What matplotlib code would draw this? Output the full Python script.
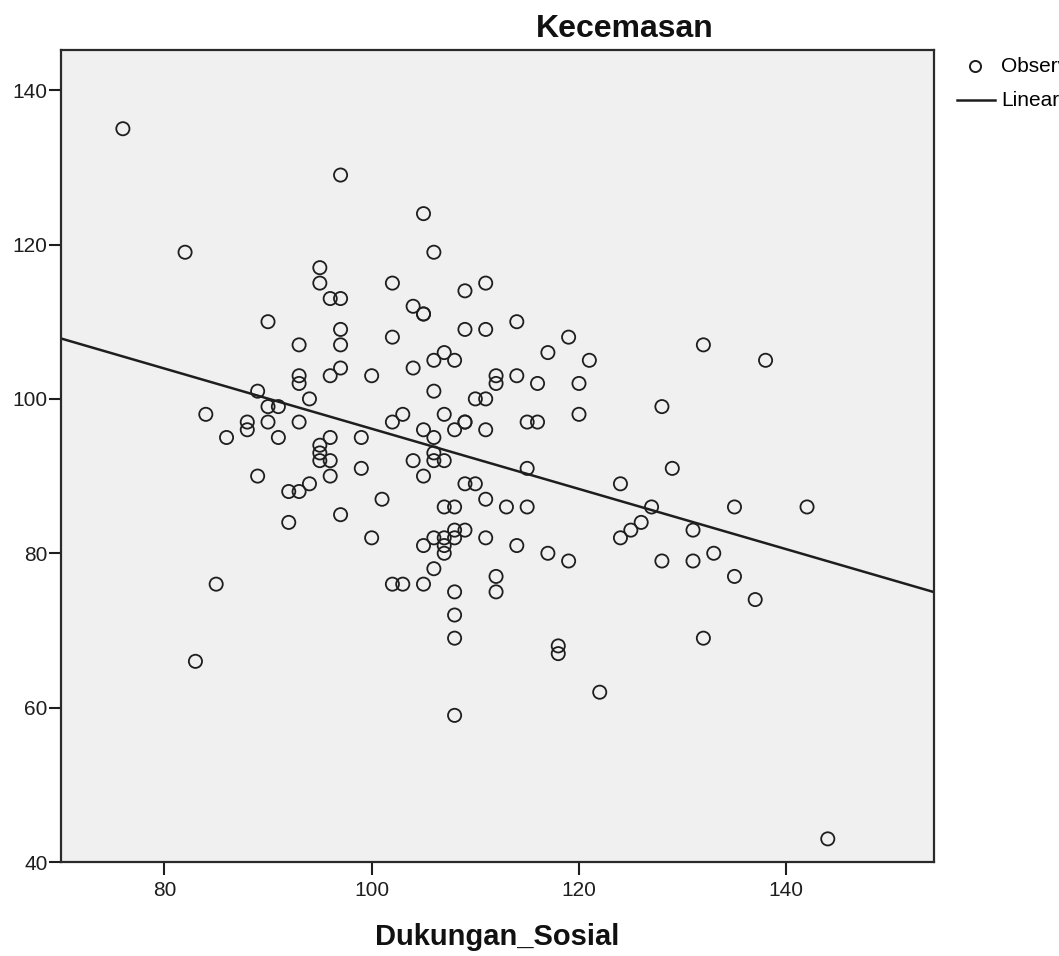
import numpy as np
import matplotlib
matplotlib.use("Agg")
import matplotlib.pyplot as plt
from matplotlib.lines import Line2D

plt.rcParams['font.family'] = ['Liberation Sans', 'DejaVu Sans']

# values (Dukungan_Sosial, Kecemasan)
dukungan = [76, 82, 97, 105, 106, 111, 95, 95, 102, 96, 97, 109, 104, 105, 105,
            90, 97, 109, 111, 114, 102, 119, 93, 97, 132, 107, 117, 138, 106, 108,
            121, 104, 97, 96, 93, 100, 112, 114, 93, 112, 116, 120, 106, 89, 94,
            110, 111, 90, 91, 128, 84, 103, 107, 120, 88, 90, 93, 102, 109, 109,
            115, 116, 88, 105, 108, 111, 86, 91, 96, 99, 106, 95, 95, 106, 95,
            96, 104, 106, 107, 99, 115, 129, 96, 105, 89, 94, 109, 110, 124, 92,
            93, 101, 111, 107, 108, 113, 115, 127, 135, 142, 97, 92, 126, 125, 108,
            109, 131, 100, 106, 107, 108, 111, 124, 105, 107, 114, 107, 117, 133, 119,
            128, 131, 106, 112, 135, 85, 102, 103, 105, 108, 112, 137, 108, 108, 132,
            118, 118, 83, 122, 108, 144]
kecemasan = [135, 119, 129, 124, 119, 115, 117, 115, 115, 113, 113, 114, 112, 111, 111,
             110, 109, 109, 109, 110, 108, 108, 107, 107, 107, 106, 106, 105, 105, 105,
             105, 104, 104, 103, 103, 103, 103, 103, 102, 102, 102, 102, 101, 101, 100,
             100, 100, 99, 99, 99, 98, 98, 98, 98, 97, 97, 97, 97, 97, 97,
             97, 97, 96, 96, 96, 96, 95, 95, 95, 95, 95, 94, 93, 93, 92,
             92, 92, 92, 92, 91, 91, 91, 90, 90, 90, 89, 89, 89, 89, 88,
             88, 87, 87, 86, 86, 86, 86, 86, 86, 86, 85, 84, 84, 83, 83,
             83, 83, 82, 82, 82, 82, 82, 82, 81, 81, 81, 80, 80, 80, 79,
             79, 79, 78, 77, 77, 76, 76, 76, 76, 75, 75, 74, 72, 69, 69,
             68, 67, 66, 62, 59, 43]

x_ticks = [80, 100, 120, 140]
y_ticks = [40, 60, 80, 100, 120, 140]

x = np.array(dukungan)
y = np.array(kecemasan)
slope, intercept = np.polyfit(x, y, 1)

fig = plt.figure(figsize=(10.59, 9.56), dpi=100)
ax = fig.add_axes([0.0573, 0.0983, 0.8242, 0.8494])
ax.set_facecolor('#f0f0f0')

ax.scatter(x, y, s=90, facecolors='none', edgecolors='#1e1e1e', linewidths=1.3, zorder=3)

xmin, xmax = 70.0, 154.2
xl = np.array([xmin, xmax])
ax.plot(xl, intercept + slope * xl, color='#1e1e1e', lw=1.8, zorder=2)

ax.set_xlim(xmin, xmax)
ax.set_ylim(40, 145.2)
ax.set_xticks(x_ticks)
ax.set_yticks(y_ticks)
ax.tick_params(axis='both', direction='out', length=9, width=1.5, colors='#1e1e1e',
               labelsize=15)
ax.tick_params(axis='y', pad=0.5)
ax.tick_params(axis='x', pad=5)
for s in ax.spines.values():
    s.set_linewidth(1.6)
    s.set_color('#2a2a2a')

fig.text(0.590, 0.961, 'Kecemasan', ha='center', va='baseline', fontsize=23,
         fontweight='bold', color='#111111')
fig.text(497 / 1059, 0.0115, 'Dukungan_Sosial', ha='center', va='baseline',
         fontsize=21, fontweight='bold', color='#111111')

# legend on the right, cut off by the figure edge like the original
fig.add_artist(Line2D([975 / 1059], [1 - 66 / 956], marker='o', markersize=8,
                      markerfacecolor='none', markeredgecolor='#1e1e1e',
                      markeredgewidth=1.4, transform=fig.transFigure))
fig.add_artist(Line2D([957 / 1059, 995 / 1059], [1 - 100 / 956, 1 - 100 / 956],
                      color='#1e1e1e', lw=1.8, transform=fig.transFigure))
fig.text(1001 / 1059, 1 - 67 / 956, 'Observed', ha='left', va='center', fontsize=15)
fig.text(1001 / 1059, 1 - 100 / 956, 'Linear', ha='left', va='center', fontsize=15)

fig.savefig('out.png', dpi=100)
